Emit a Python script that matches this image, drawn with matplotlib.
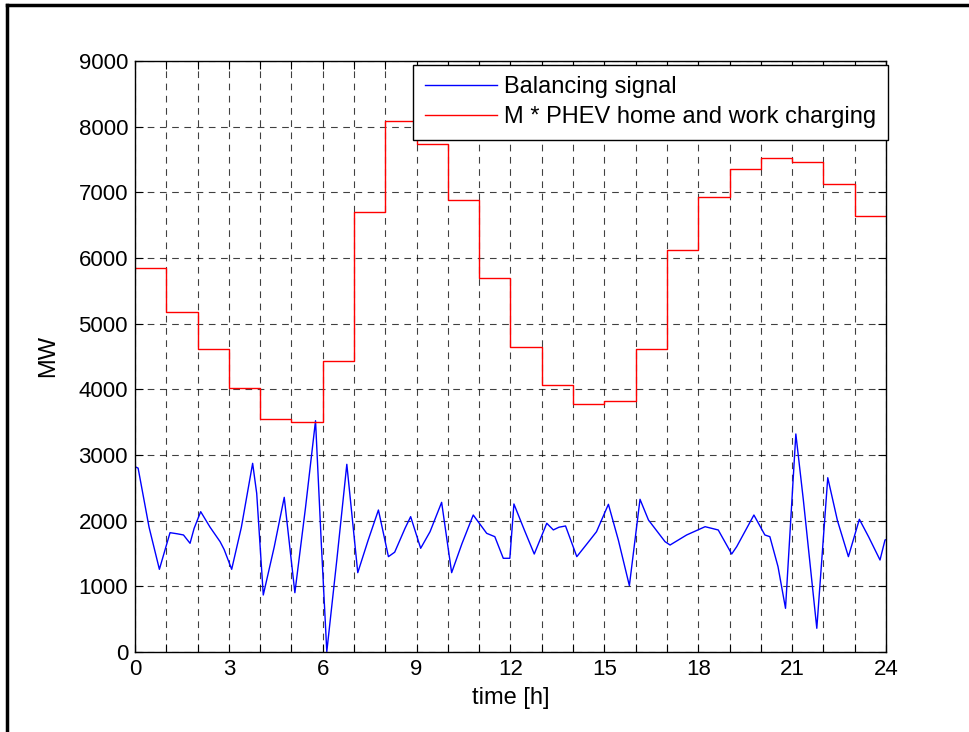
import numpy as np
import matplotlib
matplotlib.use("Agg")
import matplotlib.pyplot as plt
from matplotlib.ticker import FuncFormatter, MultipleLocator

plt.rcParams['font.family'] = ['Liberation Sans', 'DejaVu Sans']

# hourly charging demand (MW), one value per hour 0..23
hours = list(range(25))
phev = [5850, 5180, 4620, 4020, 3550, 3500, 4430, 6700, 8080, 7730, 6880, 5700,
        4640, 4060, 3770, 3820, 4620, 6120, 6930, 7360, 7530, 7460, 7130, 6640]

# balancing signal (time [h], MW)
bal_t = [0.0, 0.1, 0.45, 0.78, 1.12, 1.35, 1.55, 1.76, 1.89, 2.1, 2.4, 2.72, 2.85,
         3.09, 3.4, 3.76, 3.89, 4.1, 4.45, 4.77, 5.11, 5.45, 5.77, 5.95, 6.13,
         6.45, 6.77, 7.12, 7.45, 7.78, 8.1, 8.3, 8.63, 8.81, 9.13, 9.43, 9.8,
         10.12, 10.45, 10.81, 11.24, 11.5, 11.77, 11.98, 12.11, 12.45, 12.76,
         13.16, 13.37, 13.55, 13.76, 14.12, 14.45, 14.75, 15.13, 15.45, 15.8,
         16.14, 16.41, 16.94, 17.1, 17.63, 18.22, 18.64, 19.07, 19.23, 19.78,
         20.13, 20.29, 20.55, 20.79, 21.12, 21.36, 21.79, 22.14, 22.45, 22.8,
         23.15, 23.45, 23.81, 23.97, 24.0]
bal_v = [2822, 2800, 1900, 1259, 1817, 1800, 1782, 1655, 1883, 2137, 1900, 1680, 1560,
         1259, 1900, 2873, 2416, 868, 1600, 2355, 903, 2200, 3522, 1700, 5,
         1400, 2858, 1208, 1700, 2162, 1452, 1520, 1883, 2061, 1579, 1832, 2279,
         1208, 1650, 2086, 1807, 1756, 1427, 1427, 2254, 1850, 1492,
         1960, 1859, 1900, 1919, 1452, 1650, 1832, 2249, 1700, 1010,
         2325, 2010, 1680, 1629, 1782, 1908, 1858, 1492, 1604, 2086,
         1782, 1756, 1300, 665, 3320, 2315, 361, 2654, 2000, 1452,
         2021, 1750, 1401, 1706, 1710]

fig = plt.figure(figsize=(9.69, 7.32), dpi=100)
ax = fig.add_axes([0.1393, 0.1093, 0.775, 0.8074])

ax.plot(bal_t, bal_v, color='#0000ff', lw=1.0, label='Balancing signal')
ax.plot(hours, phev + [phev[-1]], color='#ff0000', lw=1.0, drawstyle='steps-post',
        label='M * PHEV home and work charging')

ax.set_xlim(0, 24)
ax.set_ylim(0, 9000)
ax.xaxis.set_major_locator(MultipleLocator(1))
ax.xaxis.set_major_formatter(FuncFormatter(lambda v, p: f"{int(v)}" if int(round(v)) % 3 == 0 else ""))
ax.yaxis.set_major_locator(MultipleLocator(1000))
ax.grid(True, color='black', linestyle=(0, (6, 5)), lw=0.8, alpha=0.75)
ax.tick_params(direction='in', top=True, right=True, length=6, width=0.8, labelsize=16, pad=5)
for s in ax.spines.values():
    s.set_linewidth(1.0)

ax.set_xlabel('time [h]', fontsize=17, labelpad=5)
ax.set_ylabel('MW', fontsize=17, labelpad=14)

leg = ax.legend(loc='upper right', bbox_to_anchor=(1.003, 0.994), fontsize=17,
                frameon=True, fancybox=False, framealpha=1, edgecolor='black',
                borderaxespad=0.0, handlelength=3.05, handletextpad=0.3,
                borderpad=0.5, labelspacing=0.33)
leg.get_frame().set_linewidth(1.0)

# partial frame around the figure
fig.add_artist(plt.Line2D([7/969, 7/969], [0, 1 - 5/732], color='black', lw=2.5))
fig.add_artist(plt.Line2D([7/969, 1], [1 - 5/732, 1 - 5/732], color='black', lw=2.5))

fig.savefig('out.png', dpi=100)
